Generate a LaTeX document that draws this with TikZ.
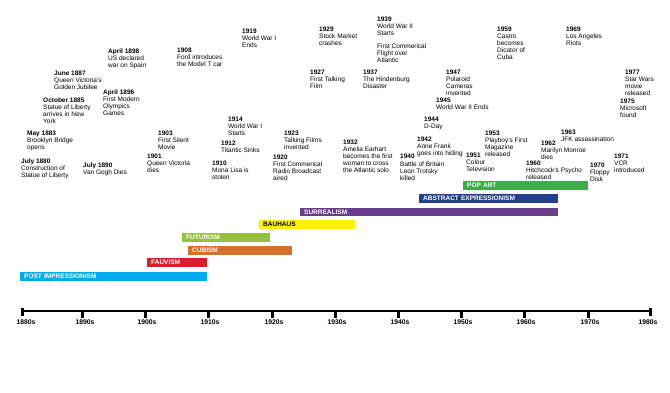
\documentclass[tikz,border=0pt]{standalone}
\usepackage{fontspec}
\setmainfont{Liberation Sans}
\usepackage{xcolor}
\usepackage{tikz}
\usetikzlibrary{positioning}

\definecolor{postcol}{RGB}{0,172,236}
\definecolor{fauvcol}{RGB}{212,32,44}
\definecolor{cubcol}{RGB}{212,112,44}
\definecolor{futcol}{RGB}{150,192,62}
\definecolor{baucol}{RGB}{255,240,0}
\definecolor{surrcol}{RGB}{108,60,140}
\definecolor{abstcol}{RGB}{36,62,142}
\definecolor{popcol}{RGB}{62,172,72}

\begin{document}
\begin{tikzpicture}[x=1pt, y=-1pt,
    event/.style={anchor=north west, inner sep=0pt, align=left, font=\fontsize{6.5}{7}\selectfont},
    bar/.style={anchor=north west, minimum height=8.5pt, inner ysep=0pt, inner xsep=4pt, align=left, text=white, font=\fontsize{6.5}{7}\selectfont\bfseries},
    decade/.style={anchor=north, inner sep=0pt, font=\fontsize{6.8}{7}\selectfont\bfseries},
    axis/.style={line width=2pt},
    tick/.style={line width=3pt},
    endcap/.style={line width=3pt}]
    \useasboundingbox (0,0) rectangle (670,392);

    % Events, 1880s to 1900s
    \node[event] (e1880) at (21,159) {\textbf{July 1880}\\Construction of\\Statue of Liberty};
    \node[event] (e1883) at (27,131) {\textbf{May 1883}\\Brooklyn Bridge\\opens};
    \node[event] (e1885) at (43,98) {\textbf{October 1885}\\Statue of Liberty\\arrives in New\\York};
    \node[event] (e1887) at (54,71) {\textbf{June 1887}\\Queen Victoria's\\Golden Jubilee};
    \node[event] (e1890) at (83,163) {\textbf{July 1890}\\Van Gogh Dies};
    \node[event] (e1896) at (103,90) {\textbf{April 1896}\\First Modern\\Olympics\\Games};
    \node[event] (e1898) at (108,49) {\textbf{April 1898}\\US declared\\war on Spain};
    \node[event] (e1901) at (147,154) {\textbf{1901}\\Queen Victoria\\dies};
    \node[event] (e1903) at (158,131) {\textbf{1903}\\First Silent\\Movie};
    \node[event] (e1908) at (177,48) {\textbf{1908}\\Ford introduces\\the Model T car};

    % Events, 1910s to 1930s
    \node[event] (e1910) at (212,161) {\textbf{1910}\\Mona Lisa is\\stolen};
    \node[event] (e1912) at (221,141) {\textbf{1912}\\Titantic Sinks};
    \node[event] (e1914) at (228,117) {\textbf{1914}\\World War I\\Starts};
    \node[event] (e1919) at (242,29) {\textbf{1919}\\World War I\\Ends};
    \node[event] (e1920) at (273,155) {\textbf{1920}\\First Commerical\\Radio Broadcast\\aired};
    \node[event] (e1923) at (284,131) {\textbf{1923}\\Talking Films\\invented};
    \node[event] (e1927) at (310,70) {\textbf{1927}\\First Talking\\Film};
    \node[event] (e1929) at (319,27) {\textbf{1929}\\Stock Market\\crashes};
    \node[event] (e1932) at (343,140) {\textbf{1932}\\Amelia Earhart\\becomes the first\\woman to cross\\the Atlantic solo};
    \node[event] (e1937) at (363,70) {\textbf{1937}\\The Hindenburg\\Disaster};
    \node[event] (e1939) at (377,17) {\textbf{1939}\\World War II\\Starts\\[6pt]First Commerical\\Flight over\\Atlantic};

    % Events, 1940s to 1970s
    \node[event] (e1940) at (400,154) {\textbf{1940}\\[1pt]Battle of Britain\\Leon Trotsky\\killed};
    \node[event] (e1942) at (417,137) {\textbf{1942}\\Anne Frank\\goes into hiding};
    \node[event] (e1944) at (424,117) {\textbf{1944}\\D-Day};
    \node[event] (e1945) at (436,98) {\textbf{1945}\\World War II Ends};
    \node[event] (e1947) at (446,70) {\textbf{1947}\\Polaroid\\Cameras\\invented};
    \node[event] (e1951) at (466,153) {\textbf{1951}\\Colour\\Television};
    \node[event] (e1953) at (485,131) {\textbf{1953}\\Playboy's First\\Magazine\\released};
    \node[event] (e1959) at (497,27) {\textbf{1959}\\Castro\\becomes\\Dicator of\\Cuba};
    \node[event] (e1960) at (526,161) {\textbf{1960}\\Hitchcock's Psycho\\released};
    \node[event] (e1962) at (541,141) {\textbf{1962}\\Marilyn Monroe\\dies};
    \node[event] (e1963) at (561,130) {\textbf{1963}\\JFK assassination};
    \node[event] (e1969) at (566,27) {\textbf{1969}\\Los Angeles\\Riots};
    \node[event] (e1970) at (590,163) {\textbf{1970}\\Floppy\\Disk};
    \node[event] (e1971) at (614,154) {\textbf{1971}\\VCR\\introduced};
    \node[event] (e1975) at (620,99) {\textbf{1975}\\Microsoft\\found};
    \node[event] (e1977) at (625,70) {\textbf{1977}\\Star Wars\\movie\\released};

    % Art movements
    \node[bar, fill=popcol, text width=117pt] (pop) at (463,181) {POP ART};
    \node[bar, fill=abstcol, text width=131pt] (abst) at (419,194) {ABSTRACT EXPRESSIONISM};
    \node[bar, fill=surrcol, text width=250pt] (surr) at (300,207.5) {SURREALISM};
    \node[bar, fill=baucol, text=black, text width=88pt] (bau) at (259,220) {BAUHAUS};
    \node[bar, fill=futcol, text width=80pt] (fut) at (182,233) {FUTURISM};
    \node[bar, fill=cubcol, text width=96pt] (cub) at (188,246) {CUBISM};
    \node[bar, fill=fauvcol, text width=52pt] (fauv) at (147,258) {FAUVISM};
    \node[bar, fill=postcol, text width=179pt] (post) at (20,272) {POST IMPRESSIONISM};

    % Time axis
    \coordinate (t1880) at (22,311);
    \coordinate (t1890) at (82,311);
    \coordinate (t1900) at (145,311);
    \coordinate (t1910) at (208,311);
    \coordinate (t1920) at (272,311);
    \coordinate (t1930) at (335,311);
    \coordinate (t1940) at (398,311);
    \coordinate (t1950) at (461,311);
    \coordinate (t1960) at (524,311);
    \coordinate (t1970) at (588,311);
    \coordinate (t1980) at (650,311);
    \draw[axis] (t1880) -- (t1980);
    \draw[endcap] ([yshift=-4.5pt]t1880) -- ([yshift=3.5pt]t1880);
    \draw[endcap] ([yshift=-4.5pt]t1980) -- ([yshift=3.5pt]t1980);

    % Decade labels
    \node[decade] (d1880) at (26,320) {1880s};
    \node[decade] (d1890) at (85,320) {1890s};
    \node[decade] (d1900) at (147,320) {1900s};
    \node[decade] (d1910) at (210,320) {1910s};
    \node[decade] (d1920) at (274,320) {1920s};
    \node[decade] (d1930) at (337,320) {1930s};
    \node[decade] (d1940) at (400,320) {1940s};
    \node[decade] (d1950) at (463,320) {1950s};
    \node[decade] (d1960) at (526,320) {1960s};
    \node[decade] (d1970) at (590,320) {1970s};
    \node[decade] (d1980) at (648,320) {1980s};

    % Ticks
    \draw[tick] (t1890) -- (t1890 |- 0,318);
    \draw[tick] (t1900) -- (t1900 |- 0,318);
    \draw[tick] (t1910) -- (t1910 |- 0,318);
    \draw[tick] (t1920) -- (t1920 |- 0,318);
    \draw[tick] (t1930) -- (t1930 |- 0,318);
    \draw[tick] (t1940) -- (t1940 |- 0,318);
    \draw[tick] (t1950) -- (t1950 |- 0,318);
    \draw[tick] (t1960) -- (t1960 |- 0,318);
    \draw[tick] (t1970) -- (t1970 |- 0,318);
\end{tikzpicture}
\end{document}
